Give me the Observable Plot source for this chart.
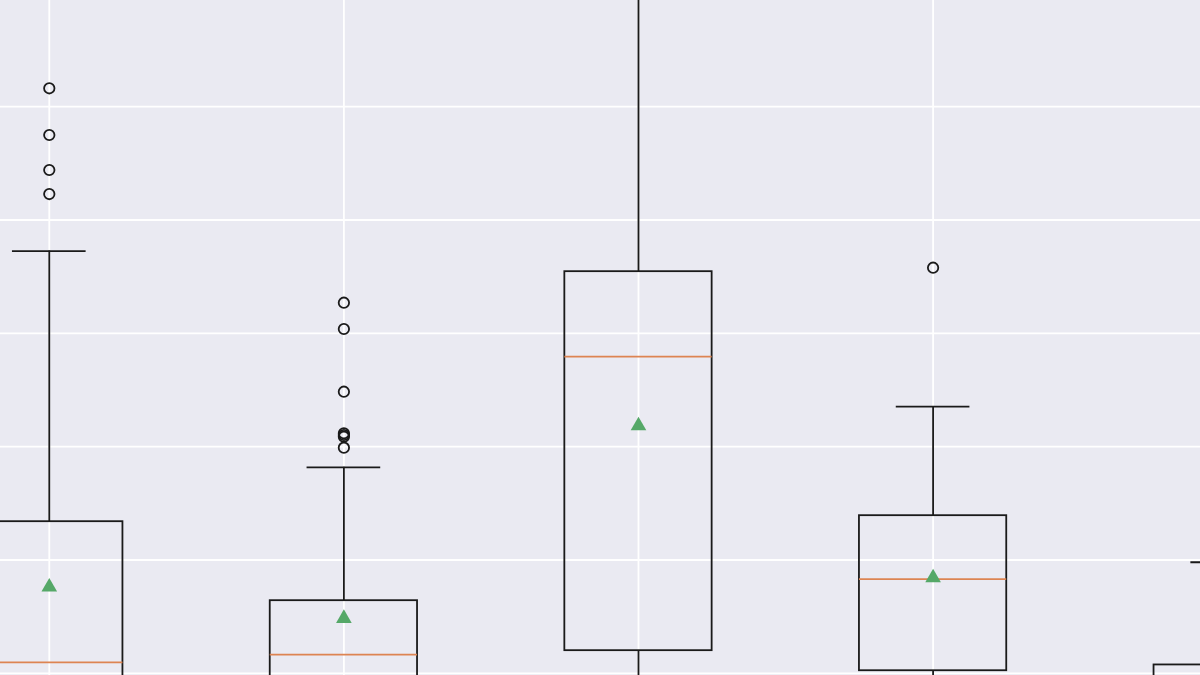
<!DOCTYPE html>
<html>
<head>
<meta charset="utf-8">
<script src="https://cdn.jsdelivr.net/npm/d3@7"></script>
<script src="https://cdn.jsdelivr.net/npm/@observablehq/plot@0.6"></script>
<style>
  html, body { margin: 0; padding: 0; background: #EAEAF2; }
  #chart { width: 1200px; height: 675px; overflow: hidden; position: relative; }
</style>
</head>
<body>
<div id="chart"></div>
<script>
// Box positions (matplotlib-style positions 1..5)
const positions = [1, 2, 3, 4, 5];
// Box statistics
const whiskerLow  = [-8, -4, -1.5, -1, -8];
const q1          = [-2, -1, 2.0, 0.23, -3];
const median      = [0.97, 1.65, 27.94, 8.32, -1];
const q3          = [13.38, 6.41, 35.44, 13.91, 0.74];
const whiskerHigh = [37.26, 18.18, 66, 23.53, 9.80];
const mean        = [7.62, 4.85, 21.85, 8.44, 2.0];
// Outliers (fliers)
const outlierGroup = [1, 1, 1, 1, 2, 2, 2, 2, 2, 2, 2, 4];
const outlierValue = [51.62, 47.50, 44.41, 42.29, 32.70, 30.38, 24.85, 21.18, 21.03, 20.88, 19.91, 35.79];
// Grid tick values
const xTicks = [1, 2, 3, 4, 5];
const yTicks = [0, 10, 20, 30, 40, 50, 60];

const boxes = positions.map((p, i) => ({
  pos: p, lo: whiskerLow[i], q1: q1[i], med: median[i], q3: q3[i], hi: whiskerHigh[i], mean: mean[i]
}));
const fliers = outlierGroup.map((g, i) => ({pos: g, value: outlierValue[i]}));

const halfBox = 0.25, halfCap = 0.125;
const ink = "#1a1a1a";
const lw = 1.8;

const chart = Plot.plot({
  width: 1200,
  height: 675,
  marginTop: 0, marginRight: 0, marginBottom: 0, marginLeft: 0,
  style: {background: "#EAEAF2", overflow: "hidden"},
  x: {type: "linear", domain: [0.8344, 4.9077], axis: null},
  y: {domain: [-0.191, 59.366], axis: null},
  marks: [
    Plot.ruleX(xTicks, {x: d => d, stroke: "white", strokeWidth: 1.8}),
    Plot.ruleY(yTicks, {y: d => d, stroke: "white", strokeWidth: 1.8}),
    // whiskers
    Plot.ruleX(boxes, {x: "pos", y1: "q3", y2: "hi", stroke: ink, strokeWidth: lw}),
    Plot.ruleX(boxes, {x: "pos", y1: "lo", y2: "q1", stroke: ink, strokeWidth: lw}),
    // caps
    Plot.ruleY(boxes, {y: "hi", x1: d => d.pos - halfCap, x2: d => d.pos + halfCap, stroke: ink, strokeWidth: lw}),
    Plot.ruleY(boxes, {y: "lo", x1: d => d.pos - halfCap, x2: d => d.pos + halfCap, stroke: ink, strokeWidth: lw}),
    // boxes
    Plot.rect(boxes, {x1: d => d.pos - halfBox, x2: d => d.pos + halfBox, y1: "q1", y2: "q3", fill: "none", stroke: ink, strokeWidth: lw}),
    // medians
    Plot.ruleY(boxes, {y: "med", x1: d => d.pos - halfBox, x2: d => d.pos + halfBox, stroke: "#DD8452", strokeWidth: lw}),
    // means
    Plot.dot(boxes, {x: "pos", y: "mean", symbol: "triangle", fill: "#55A868", stroke: "none", r: 5.8}),
    // fliers
    Plot.dot(fliers, {x: "pos", y: "value", fill: "none", stroke: ink, strokeWidth: lw, r: 5.2})
  ]
});
document.getElementById("chart").appendChild(chart);
</script>
</body>
</html>
